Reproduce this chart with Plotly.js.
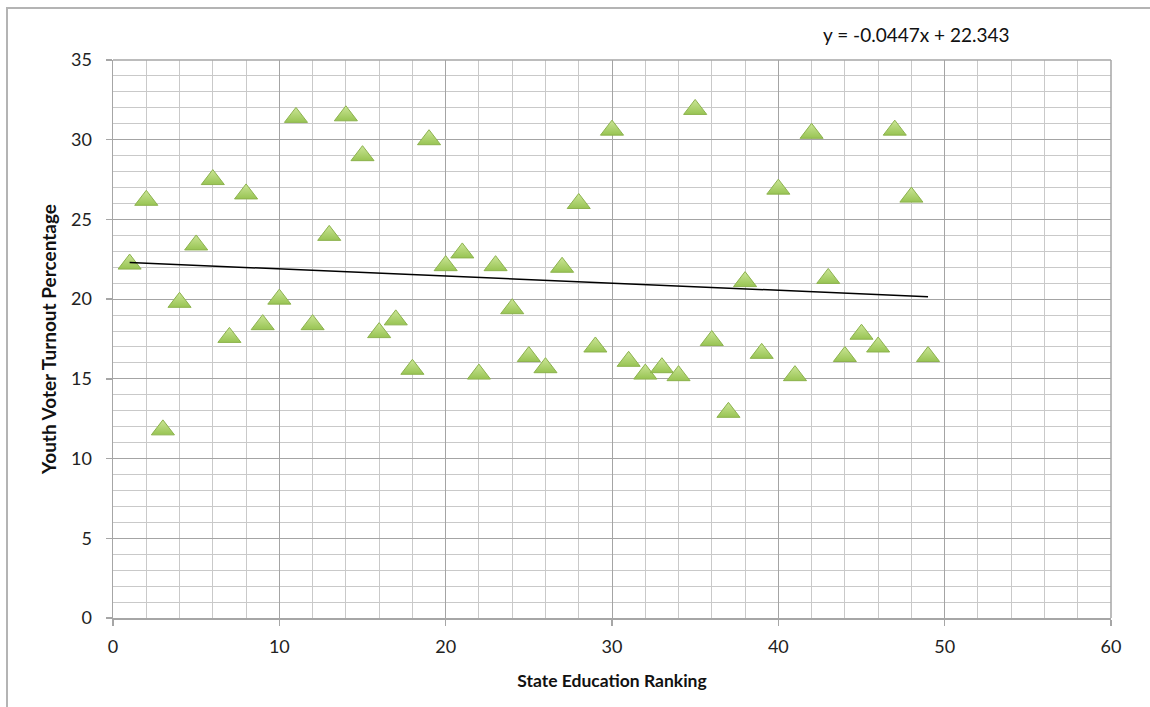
<!DOCTYPE html>
<html>
<head>
<meta charset="utf-8">
<script src="https://cdn.plot.ly/plotly-3.0.1.min.js"></script>
<style>
  html, body { margin: 0; padding: 0; background: #fff; }
  #wrap { position: relative; width: 1150px; height: 707px; overflow: hidden; }
  #frame { position: absolute; left: 6px; top: 7px; width: 1200px; height: 800px;
           border-left: 2px solid #b4b4b4; border-top: 2px solid #b4b4b4; pointer-events: none; }
  #chart { position: absolute; left: 0; top: 0; width: 1150px; height: 707px; }
</style>
</head>
<body>
<div id="wrap">
  <div id="chart"></div>
  <div id="frame"></div>
</div>
<script>
// State education ranking (x) and youth voter turnout percentage (y)
const ranking = [1, 2, 3, 4, 5, 6, 7, 8, 9, 10,
                 11, 12, 13, 14, 15, 16, 17, 18, 19, 20,
                 21, 22, 23, 24, 25, 26, 27, 28, 29, 30,
                 31, 32, 33, 34, 35, 36, 37, 38, 39, 40,
                 41, 42, 43, 44, 45, 46, 47, 48, 49];
const turnout = [22.2, 26.2, 11.8, 19.8, 23.4, 27.5, 17.6, 26.6, 18.4, 20.0,
                 31.4, 18.4, 24.0, 31.5, 29.0, 17.9, 18.7, 15.6, 30.0, 22.1,
                 22.9, 15.3, 22.1, 19.4, 16.4, 15.7, 22.0, 26.0, 17.0, 30.6,
                 16.1, 15.3, 15.7, 15.2, 31.9, 17.4, 12.9, 21.1, 16.6, 26.9,
                 15.2, 30.4, 21.3, 16.4, 17.8, 17.0, 30.6, 26.4, 16.4];

// Linear trendline reported on the chart
const trendSlope = -0.0447;
const trendIntercept = 22.343;
const trendLabel = "y = -0.0447x + 22.343";

const xTitle = "State Education Ranking";
const yTitle = "Youth Voter Turnout Percentage";

const xMin = Math.min(...ranking), xMax = Math.max(...ranking);
const trendX = [xMin, xMax];
const trendY = trendX.map(v => trendSlope * v + trendIntercept);

const FONT = "Lato, 'Open Sans', 'Liberation Sans', sans-serif";

const traces = [
  {
    x: ranking, y: turnout, type: 'scatter', mode: 'markers',
    marker: {
      symbol: 'triangle-up', size: 20,
      color: '#cbe596',
      gradient: { type: 'vertical', color: '#98c453' },
      line: { color: '#8cb24d', width: 1 }
    },
    hoverinfo: 'x+y', showlegend: false
  },
  {
    x: trendX, y: trendY, type: 'scatter', mode: 'lines',
    line: { color: '#000000', width: 1.5 },
    hoverinfo: 'skip', showlegend: false
  }
];

const axisCommon = {
  showline: true, linecolor: '#a6a6a6', linewidth: 1.5,
  mirror: false,
  ticks: 'outside', ticklen: 6, tickcolor: '#a6a6a6', tickwidth: 1.5,
  showgrid: true, gridcolor: '#a4a4a4', gridwidth: 1,
  zeroline: false,
  tickfont: { family: FONT, size: 18, color: '#222' },
  fixedrange: true
};

const layout = {
  width: 1150, height: 707,
  paper_bgcolor: '#ffffff', plot_bgcolor: '#ffffff',
  margin: { l: 112.7, r: 39, t: 59.6, b: 89.4 },
  showlegend: false,
  xaxis: Object.assign({}, axisCommon, {
    range: [0, 60], dtick: 10, tick0: 0,
    ticklabelstandoff: 6,
    minor: { dtick: 2, showgrid: true, gridcolor: '#c9c9c9', gridwidth: 1, ticks: '' },
    title: { text: '<b>' + xTitle + '</b>', font: { family: FONT, size: 17.5, color: '#111' }, standoff: 18 }
  }),
  yaxis: Object.assign({}, axisCommon, {
    range: [0, 35], dtick: 5, tick0: 0,
    ticklabelstandoff: 10,
    minor: { dtick: 1, showgrid: true, gridcolor: '#c9c9c9', gridwidth: 1, ticks: '' },
    title: { text: '<b>' + yTitle + '</b>', font: { family: FONT, size: 19, color: '#111' }, standoff: 9 }
  }),
  shapes: [
    { type: 'line', xref: 'paper', yref: 'paper', x0: 1, x1: 1, y0: 0, y1: 1,
      line: { color: '#a6a6a6', width: 1.5 } },
    { type: 'line', xref: 'paper', yref: 'paper', x0: 0, x1: 1, y0: 1, y1: 1,
      line: { color: '#a6a6a6', width: 1.5 } }
  ],
  annotations: [
    { text: trendLabel, xref: 'paper', yref: 'paper', x: 0.805, y: 1.0,
      yshift: 12, xanchor: 'center', yanchor: 'bottom', showarrow: false,
      font: { family: FONT, size: 19, color: '#111' } }
  ]
};

Plotly.newPlot('chart', traces, layout, { staticPlot: true, displayModeBar: false });
</script>
</body>
</html>
